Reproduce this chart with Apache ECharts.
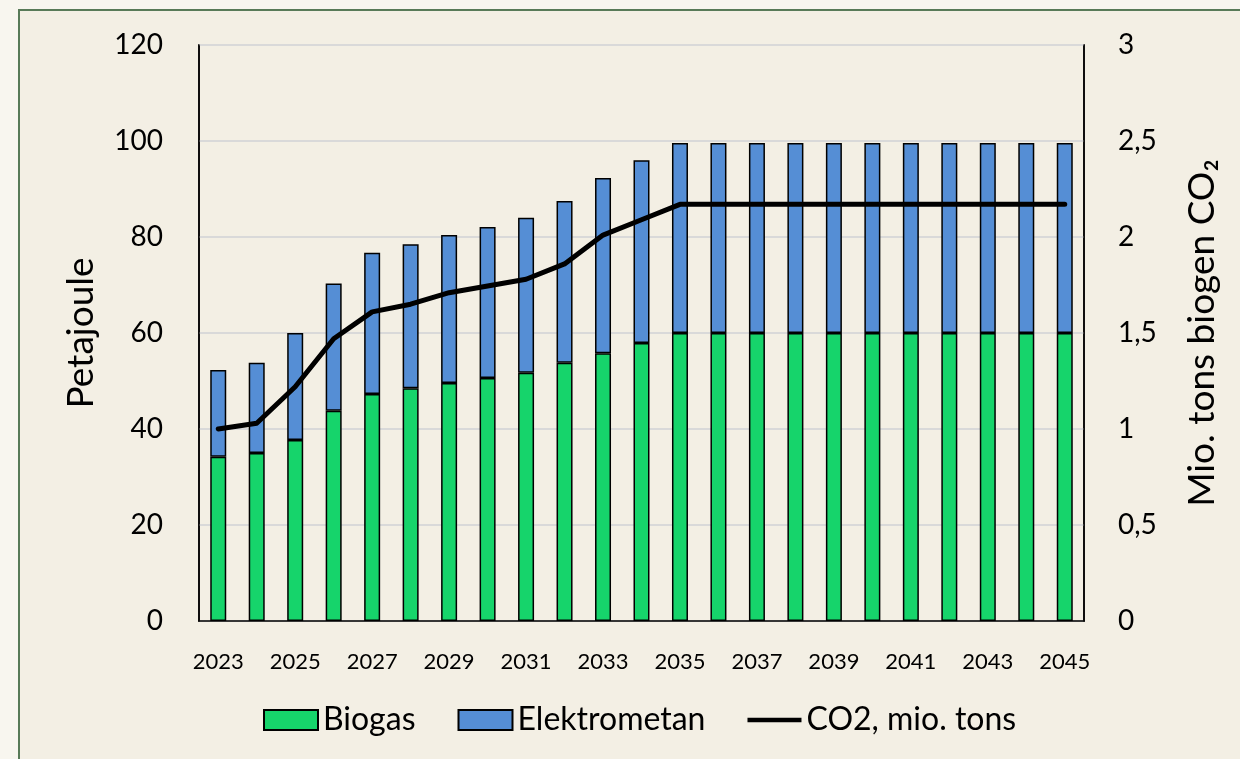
<!DOCTYPE html>
<html lang="da">
<head>
    <meta charset="UTF-8">
    <title>Biogas og elektrometan</title>
    <script src="https://cdn.jsdelivr.net/npm/echarts@6/dist/echarts.min.js"></script>
    <style>
        html, body { margin: 0; padding: 0; }
        #container { width: 1240px; height: 759px; }
    </style>
</head>
<body>
<div id="container"></div>
<script type="text/javascript">

    var years = ['2023', '2024', '2025', '2026', '2027', '2028', '2029', '2030', '2031', '2032', '2033', '2034',
        '2035', '2036', '2037', '2038', '2039', '2040', '2041', '2042', '2043', '2044', '2045'];
    var biogas = [34.2, 35.0, 37.7, 43.8, 47.3, 48.5, 49.6, 50.6, 51.7, 53.8, 55.8, 57.9,
        60, 60, 60, 60, 60, 60, 60, 60, 60, 60, 60];
    var elektrometan = [18.1, 18.8, 22.3, 26.5, 29.4, 30.0, 30.8, 31.5, 32.3, 33.7, 36.5, 38.1,
        39.6, 39.6, 39.6, 39.6, 39.6, 39.6, 39.6, 39.6, 39.6, 39.6, 39.6];
    var co2 = [1.00, 1.03, 1.22, 1.47, 1.61, 1.65, 1.71, 1.745, 1.78, 1.86, 2.01, 2.09,
        2.17, 2.17, 2.17, 2.17, 2.17, 2.17, 2.17, 2.17, 2.17, 2.17, 2.17];

    var font = 'Lato';
    var myChart = echarts.init(document.getElementById('container'));

    myChart.setOption({
        backgroundColor: '#f8f6ef',
        textStyle: {fontFamily: font, color: '#000'},
        graphic: [{
            type: 'rect',
            z: -10,
            shape: {x: 19, y: 10, width: 1240, height: 800},
            style: {fill: '#f3efe4', stroke: '#587a58', lineWidth: 2}
        }],
        grid: {
            left: 199, right: 156, top: 45, bottom: 138,
            show: true, borderColor: '#000', borderWidth: 1.5
        },
        legend: {
            bottom: 18,
            left: 258,
            itemWidth: 54,
            itemHeight: 20,
            itemGap: 42,
            textStyle: {fontFamily: font, fontSize: 32, color: '#000'},
            data: [
                {name: 'Biogas', icon: 'rect'},
                {name: 'Elektrometan', icon: 'rect'},
                {name: 'CO2, mio. tons', icon: 'path://M0,0 L60,0 L60,5 L0,5 Z'}
            ]
        },
        xAxis: {
            type: 'category',
            data: years,
            axisLine: {lineStyle: {color: '#000', width: 1.5}},
            axisTick: {show: false},
            axisLabel: {interval: 1, fontSize: 22, color: '#000', margin: 30}
        },
        yAxis: [{
            type: 'value',
            min: 0, max: 120, interval: 20,
            name: 'Petajoule',
            nameLocation: 'middle',
            nameRotate: 90,
            nameGap: 99,
            nameTextStyle: {fontSize: 37, color: '#000'},
            axisLine: {show: true, lineStyle: {color: '#000', width: 1.5}},
            axisLabel: {fontSize: 28, color: '#000', margin: 36},
            splitLine: {lineStyle: {color: '#d9d9d9', width: 2}}
        }, {
            type: 'value',
            min: 0, max: 3, interval: 0.5,
            name: 'Mio. tons biogen CO₂',
            nameLocation: 'middle',
            nameRotate: 90,
            nameGap: 100,
            nameTextStyle: {fontSize: 37, color: '#000'},
            axisLine: {show: true, lineStyle: {color: '#000', width: 1.5}},
            axisLabel: {
                fontSize: 28, color: '#000', margin: 34,
                formatter: function (v) { return String(v).replace('.', ','); }
            },
            splitLine: {show: false}
        }],
        series: [{
            name: 'Biogas',
            type: 'bar',
            stack: 'total',
            barWidth: 16,
            data: biogas,
            itemStyle: {color: '#16d46b', borderColor: '#000', borderWidth: 1.5}
        }, {
            name: 'Elektrometan',
            type: 'bar',
            stack: 'total',
            barWidth: 16,
            data: elektrometan,
            itemStyle: {color: '#558ed5', borderColor: '#000', borderWidth: 1.5}
        }, {
            name: 'CO2, mio. tons',
            type: 'line',
            yAxisIndex: 1,
            data: co2,
            symbol: 'none',
            z: 5,
            lineStyle: {color: '#000', width: 5, cap: 'round', join: 'round'},
            itemStyle: {color: '#000'}
        }]
    });
</script>
</body>
</html>
